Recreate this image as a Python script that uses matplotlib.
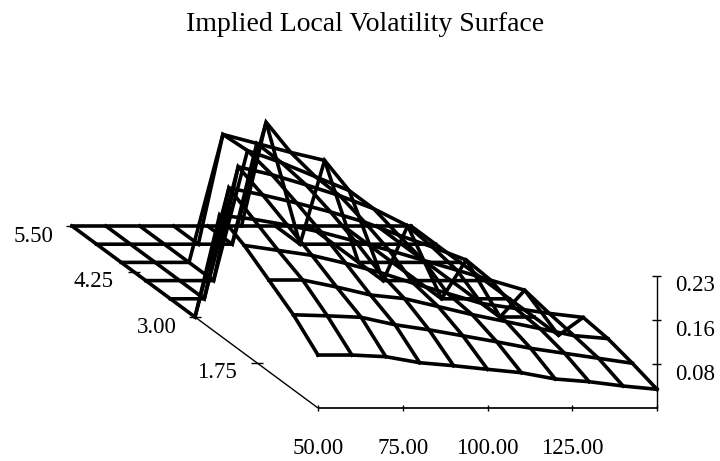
import matplotlib
matplotlib.use("Agg")
import matplotlib.pyplot as plt
import numpy as np

plt.rcParams['font.family'] = ['Liberation Serif', 'DejaVu Serif']

TITLE = "Implied Local Volatility Surface"
strikes = [50, 60, 70, 80, 90, 100, 110, 120, 130, 140, 150]
maturities = [0.5, 1.0, 1.5, 2.0, 2.5, 3.0, 3.5, 4.0, 4.5, 5.0, 5.5]

vol_t050 = [.0923, .0923, .0894, .0789, .0737, .0674, .0615, .0505, .0458, .0383, .0326]
vol_t100 = [.1307, .1289, .1263, .1133, .1045, .0941, .0836, .0723, .0636, .0549, .0462]
vol_t150 = [.1596, .1596, .1474, .1335, .1272, .1133, .0993, .0871, .0749, .0627, .0575]
vol_t200 = [.1882, .1795, .1708, .1568, .1411, .1220, .1045, .0871, .0784, .0697, .0627]
vol_t250 = [.2091, .2021, .1917, .1795, .1638, .1481, .1307, .1133, .0958, .0784, 0]
vol_t300 = [0, .2248, .2126, .1986, .1830, .1655, .1429, .1220, .0993, 0, 0]
vol_t350 = [0, 0, .2300, .2161, .1986, .1795, .1568, .1272, 0, 0, 0]
vol_t400 = [0, 0, 0, .2265, .2056, .1812, .1568, 0, 0, 0, 0]
vol_t450 = [0, 0, 0, .2230, .2073, .1917, .1777, 0, 0, 0, 0]
vol_t500 = [0, 0, 0, 0, 0, .2126, 0, 0, 0, 0, 0]
vol_t550 = [0, 0, 0, 0, 0, 0, 0, 0, 0, 0, 0]

strike_ticks = [50, 75, 100, 125, 150]
strike_labels = ["50.00", "75.00", "100.00", "125.00"]
maturity_ticks = [5.5, 4.25, 3.0, 1.75]
maturity_labels = ["5.50", "4.25", "3.00", "1.75"]
vol_ticks = [0.0767, 0.1533, 0.23]
vol_labels = ["0.08", "0.16", "0.23"]

vols = np.array([vol_t050, vol_t100, vol_t150, vol_t200, vol_t250, vol_t300,
                 vol_t350, vol_t400, vol_t450, vol_t500, vol_t550])


def project(k, t, v):
    """Oblique projection of (strike, maturity, vol) onto the figure in pixels."""
    k, t, v = np.asarray(k, float), np.asarray(t, float), np.asarray(v, float)
    u = (k - 50) / 100
    d = (t - 0.5) / 5
    return 318 + 339 * u - 246 * d, 408 - 182 * d - v * 132 / 0.23


fig = plt.figure(figsize=(7.2, 4.61), dpi=100)
ax = fig.add_axes([0, 0, 1, 1])
ax.set_xlim(0, 720)
ax.set_ylim(461, 0)
ax.axis("off")

ax.text(365, 31, TITLE, ha="center", va="baseline", fontsize=20)

# Axes
AX = dict(color="black", lw=1.0, solid_capstyle="butt")
ax.plot(*project([50, 150], [0.5, 0.5], [0, 0]), color="black", lw=1.25, solid_capstyle="butt")
ax.plot(*project([50, 50], [0.5, 3.0], [0, 0]), **AX)
ax.plot(*project([150, 150], [0.5, 0.5], [0, 0.23]), **AX)

for k in strike_ticks:
    x, y = project(k, 0.5, 0)
    ax.plot([x, x], [y - 3, y + 3], **AX)
for t in maturity_ticks:
    x, y = project(50, t, 0)
    ax.plot([x - 6, x + 6], [y, y], **AX)
for v in vol_ticks:
    x, y = project(150, 0.5, v)
    ax.plot([x - 5, x + 4], [y, y], **AX)

# Wireframe
WF = dict(color="black", lw=2.6, solid_joinstyle="miter", solid_capstyle="projecting")
K, T = np.meshgrid(strikes, maturities)
PX, PY = project(K, T, vols)
for r in range(PX.shape[0]):
    ax.plot(PX[r], PY[r], **WF)
for c in range(PX.shape[1]):
    ax.plot(PX[:, c], PY[:, c], **WF)

# Tick labels
FS = 16.5
for lab, k in zip(strike_labels, strike_ticks):
    x, y = project(k, 0.5, 0)
    ax.text(x, y + 38, lab, ha="center", va="center_baseline", fontsize=FS)
for lab, (x, y) in zip(maturity_labels, [(33.5, 233.5), (93.5, 279), (157, 325), (217, 370)]):
    ax.text(x, y, lab, ha="center", va="center_baseline", fontsize=FS)
for lab, (x, y) in zip(vol_labels, [(695.5, 372), (695.5, 328), (695.5, 283)]):
    ax.text(x, y, lab, ha="center", va="center_baseline", fontsize=FS)

fig.savefig("out.png", dpi=100)
